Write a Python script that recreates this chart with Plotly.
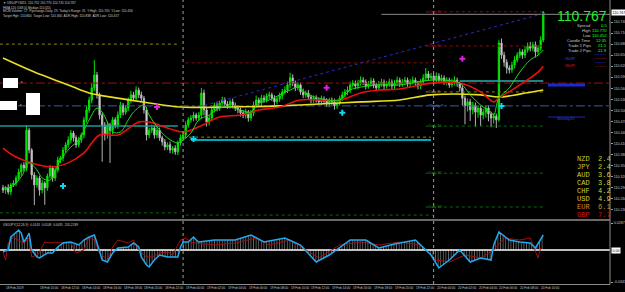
import plotly.graph_objects as go

# ---------------- data ----------------
first_open = 110.289
closes = [
 110.283,110.289,110.278,110.297,110.302,110.316,110.332,110.351,110.343,110.446,
 110.392,110.324,110.297,110.316,110.283,110.302,110.289,110.321,110.343,110.316,
 110.338,110.365,110.370,110.392,110.406,110.419,110.438,110.425,110.406,110.419,
 110.433,110.474,110.501,110.528,110.561,110.596,110.542,110.487,110.460,110.433,
 110.460,110.446,110.474,110.460,110.487,110.514,110.495,110.506,110.528,110.542,
 110.533,110.555,110.542,110.533,110.501,110.433,110.446,110.452,110.433,110.446,
 110.425,110.414,110.400,110.406,110.392,110.397,110.387,110.411,110.425,110.433,
 110.460,110.474,110.479,110.487,110.479,110.487,110.547,110.501,110.468,110.479,
 110.501,110.514,110.506,110.520,110.528,110.517,110.512,110.523,110.514,110.506,
 110.501,110.493,110.487,110.495,110.479,110.493,110.514,110.528,110.520,110.533,
 110.528,110.539,110.542,110.533,110.523,110.531,110.539,110.550,110.555,110.569,
 110.588,110.574,110.561,110.569,110.550,110.542,110.547,110.536,110.528,110.533,
 110.528,110.523,110.531,110.525,110.517,110.528,110.523,110.512,110.520,110.533,
 110.542,110.550,110.555,110.569,110.574,110.566,110.574,110.582,110.577,110.566,
 110.572,110.580,110.569,110.561,110.572,110.577,110.566,110.572,110.577,110.566,
 110.574,110.582,110.572,110.577,110.582,110.572,110.577,110.582,110.574,110.566,
 110.577,110.588,110.599,110.588,110.593,110.582,110.593,110.582,110.588,110.577,
 110.582,110.569,110.577,110.582,110.572,110.561,110.533,110.512,110.523,110.501,
 110.514,110.495,110.506,110.487,110.495,110.506,110.490,110.479,110.484,110.474,
 110.683,110.650,110.631,110.615,110.610,110.623,110.637,110.650,110.659,110.650,
 110.664,110.675,110.669,110.678,110.659,110.669,110.691,110.767,
]
wick_up_pips = [
 0.8,0.5,1.0,0.6,0.8,0.7,0.9,0.5,0.8,1.4,
 0.6,0.5,0.8,0.7,0.6,0.9,0.5,0.7,0.8,0.6,
 0.7,0.9,0.6,0.8,0.7,1.0,0.8,0.6,0.7,0.9,
 0.6,0.8,1.0,0.9,1.2,4.0,0.8,0.6,0.7,0.8,
 0.9,0.6,0.8,0.7,1.0,0.9,0.6,0.8,0.7,1.1,
 0.8,1.0,0.7,0.9,0.6,0.8,0.7,0.9,0.6,0.8,
 0.7,0.6,0.8,0.7,0.9,0.6,0.8,0.7,0.9,0.8,
 1.0,0.7,0.8,0.9,0.6,0.8,1.4,0.9,0.7,0.8,
 0.9,0.7,0.8,0.6,0.9,0.7,0.8,0.6,0.9,0.7,
 0.8,0.6,0.7,0.9,0.6,0.8,1.0,1.2,0.7,0.9,
 0.8,0.7,0.9,0.6,0.8,0.7,0.9,0.8,1.0,0.9,
 1.4,1.0,0.7,0.8,0.6,0.9,0.7,0.8,0.6,0.7,
 0.8,0.6,0.9,0.7,0.8,0.6,0.7,0.9,0.8,0.7,
 0.9,0.8,1.0,0.9,0.8,0.7,0.9,1.0,0.8,0.7,
 0.8,0.9,0.7,0.6,0.8,0.9,0.7,0.8,0.9,0.7,
 0.8,1.0,0.7,0.8,0.9,0.7,0.8,1.0,0.7,0.6,
 0.8,1.0,1.6,0.8,0.9,0.7,1.0,0.8,0.9,0.7,
 0.8,0.7,0.9,1.0,0.7,0.6,0.8,0.7,0.9,0.8,
 0.9,0.7,0.8,0.6,0.9,0.8,0.7,0.6,0.8,0.7,
 0.8,1.2,0.9,0.8,0.7,0.9,1.0,0.8,0.9,0.7,
 1.0,0.9,1.1,0.8,0.9,0.8,1.0,0.3,
]
wick_dn_pips = [
 0.8,1.0,0.7,0.9,0.6,0.8,0.7,1.0,0.9,0.8,
 0.9,1.2,5.5,0.8,1.5,0.9,4.6,0.8,0.7,1.0,
 0.8,0.7,0.9,0.8,0.7,0.8,0.9,1.0,0.8,0.7,
 0.8,0.9,0.7,0.8,0.9,0.8,1.0,1.2,10.0,1.5,
 1.0,8.9,1.2,0.9,1.0,0.8,0.9,0.7,0.8,0.9,
 0.8,0.7,0.9,0.8,1.0,1.5,0.9,0.8,1.0,0.9,
 0.8,1.0,0.9,0.8,0.9,1.0,0.8,0.9,0.7,0.8,
 0.9,0.7,0.8,0.9,0.7,0.8,0.9,1.5,1.2,0.9,
 0.8,0.7,0.9,0.8,0.7,0.9,0.8,0.7,0.9,0.8,
 0.9,1.0,0.8,0.9,1.0,0.8,0.9,0.7,0.8,0.9,
 0.8,0.7,0.9,0.8,0.9,0.7,0.8,0.9,0.7,0.8,
 0.9,0.8,0.9,0.7,0.8,0.9,0.8,0.7,0.9,0.8,
 0.7,0.8,0.9,0.7,0.8,0.9,0.8,1.0,0.8,0.7,
 0.8,0.7,0.9,0.8,0.7,0.8,0.9,0.7,0.8,0.9,
 0.7,0.8,0.9,0.8,0.7,0.8,0.9,0.7,0.8,0.9,
 0.8,0.7,0.9,0.8,0.7,0.8,0.9,0.7,0.8,0.9,
 0.8,0.7,0.9,0.8,0.7,0.8,0.9,0.8,0.7,0.8,
 0.9,0.8,0.7,0.9,0.8,1.0,2.0,5.0,1.5,3.0,
 1.2,4.0,1.5,3.0,1.2,1.5,2.0,2.5,1.5,2.2,
 0.5,1.0,1.2,1.5,1.0,0.8,0.9,0.7,0.8,1.0,
 0.8,0.7,0.9,0.8,1.5,0.9,0.7,0.6,
]

ma_slow_bars = [0,12,25,33,44,56,68,87,106,121,137,152,164,183,190,198,207]
ma_slow_vals = [110.642,110.604,110.569,110.547,110.533,110.520,110.509,110.509,110.512,
                110.517,110.523,110.528,110.542,110.542,110.536,110.544,110.555]
ma_mid_bars = [0,5,18,25,31,37,44,52,56,63,69,75,83,91,98,106,114,129,137,144,152,164,
               175,183,188,190,198,205,207]
ma_mid_vals = [110.397,110.373,110.346,110.357,110.384,110.433,110.433,110.468,110.468,110.452,
               110.441,110.455,110.482,110.487,110.501,110.509,110.528,110.528,110.547,110.555,
               110.558,110.574,110.574,110.550,110.523,110.533,110.569,110.604,110.620]
ma_fast_bars = [0,3,7,10,13,15,18,22,26,29,33,36,38,40,42,45,48,50,54,56,59,63,67,69,72,75,
                79,83,87,91,95,98,102,106,110,113,116,121,129,133,137,144,152,164,175,179,183,
                187,188,190,194,198,202,205,207]
ma_fast_vals = [110.289,110.291,110.319,110.357,110.338,110.316,110.310,110.365,110.400,110.419,
                110.474,110.506,110.495,110.468,110.441,110.441,110.474,110.495,110.514,110.487,
                110.455,110.425,110.411,110.419,110.438,110.474,110.487,110.506,110.509,110.501,
                110.495,110.520,110.528,110.542,110.555,110.563,110.547,110.533,110.528,110.555,
                110.563,110.569,110.569,110.582,110.574,110.542,110.514,110.495,110.487,110.533,
                110.561,110.604,110.637,110.650,110.664]

buy_bars = [23, 73, 130, 191]
buy_prices = [110.294, 110.422, 110.493, 110.512]
sell_bars = [59, 124, 176]
sell_prices = [110.509, 110.561, 110.640]

trend_bars = [75, 208]
trend_prices = [110.509, 110.765]

level_prices = [110.680, 110.221, 110.457, 110.629, 110.427, 110.215, 110.419, 110.768, 110.675,
                110.550, 110.457, 110.329, 110.237, 110.580, 110.574, 110.512, 110.761]
level_from = [-1.2, -1.2, -1.2, 70, 69, 70, 72, 162, 162, 162, 162, 162, 162, 175, -1.2, -1.2, 145]
level_to = [67, 68, 67, 165, 164, 165, 164, 207, 207, 207, 207, 207, 207, 207, 232.6, 232.6, 232.6]

pivot_names = ["Daily R2", "Daily R1", "Daily P", "Weekly P", "Daily S1", "Daily S2", "Daily S3"]
pivot_prices = [110.768, 110.675, 110.550, 110.512, 110.457, 110.329, 110.237]

day_separators = [69, 165]

osc_bars = [0,2,3,5,6,7,8,9,10,11,13,14,17,19,21,23,25,26,29,31,33,35,36,38,40,42,44,48,50,52,
            53,55,56,58,60,63,65,67,68,69,71,73,74,75,81,89,95,100,108,114,120,125,133,139,144,
            150,158,164,167,171,175,179,183,187,188,190,194,198,202,204,207]
osc_main = [-0.0017,0.000,0.013,0.018,0.020,0.017,0.008,0.012,0.017,0.000,
            -0.007,-0.008,-0.003,-0.003,0.003,0.007,0.008,0.008,0.005,0.010,
            0.013,0.015,0.007,-0.010,-0.012,-0.003,0.002,0.003,0.007,0.003,
            -0.007,-0.015,-0.017,-0.010,-0.005,-0.007,-0.007,-0.007,0.003,0.008,
            0.008,0.013,0.010,0.008,0.010,0.010,0.015,0.008,0.012,0.005,
            -0.012,-0.005,0.010,0.010,0.002,0.006,0.010,-0.005,-0.018,-0.010,
            0.000,-0.012,-0.008,-0.010,0.005,0.018,0.010,0.008,0.007,0.002,0.015]
sig_bars = [0,1,2,4,7,8,10,11,13,14,16,18,20,22,24,26,28,31,33,35,37,40,42,44,48,50,52,55,57,60,
            63,65,68,70,72,74,81,89,97,102,110,116,121,129,137,144,152,160,166,171,177,183,188,
            192,198,202,205,206]
sig_vals = [-0.002,-0.010,0.007,0.013,0.008,0.007,0.012,-0.007,-0.005,-0.002,
            0.008,0.007,0.008,0.007,0.008,0.007,-0.003,0.000,0.013,0.010,
            -0.003,-0.010,0.003,0.010,0.007,0.010,0.000,-0.007,-0.007,-0.003,
            -0.002,-0.005,0.010,0.012,0.008,0.007,0.005,0.007,0.012,0.005,
            0.010,0.000,-0.008,0.005,0.008,0.005,0.008,0.005,-0.010,-0.012,
            -0.005,-0.008,0.000,0.012,0.010,0.012,-0.008,0.002]

price_tick_labels = ["110.740","110.710","110.680","110.650","110.620","110.590","110.560",
                     "110.530","110.500","110.470","110.440","110.410","110.380","110.350",
                     "110.320","110.290","110.260","110.230"]
time_tick_bars = [0,13,21,29,37,45,53,61,69,77,85,93,101,109,117,125,133,141,149,157,165,173,
                  181,189,197,205]
time_tick_labels = ["18 Feb 2019","18 Feb 10:00","18 Feb 12:00","18 Feb 14:00","18 Feb 16:00",
                    "18 Feb 18:00","18 Feb 20:00","18 Feb 22:00","19 Feb 00:00","19 Feb 02:00",
                    "19 Feb 04:00","19 Feb 06:00","19 Feb 08:00","19 Feb 10:00","19 Feb 12:00",
                    "19 Feb 14:00","19 Feb 16:00","19 Feb 18:00","19 Feb 20:00","19 Feb 22:00",
                    "20 Feb 00:00","20 Feb 02:00","20 Feb 04:00","20 Feb 06:00","20 Feb 08:00",
                    "20 Feb 10:00"]

last_price = "110.767"
info_labels = ["Spread", "High", "Low", "Candle Time", "Trade 1 Pips", "Trade 2 Pips"]
info_values = ["0.5", "110.770", "110.452", "12:35", "21.5", "21.9"]
currencies = ["NZD", "JPY", "AUD", "CAD", "CHF", "USD", "EUR", "GBP"]
strengths = ["2.4", "2.4", "3.6", "3.8", "4.2", "4.9", "6.1", "7.7"]

assert len(closes) == len(wick_up_pips) == len(wick_dn_pips) == 208

# ---------------- build ----------------
W, H, PW = 625, 292, 610
FONT = "Liberation Sans"
bars = list(range(len(closes)))
opens = [first_open] + closes[:-1]
highs = [max(o, c) + u / 100 for o, c, u in zip(opens, closes, wick_up_pips)]
lows = [min(o, c) - d / 100 for o, c, d in zip(opens, closes, wick_dn_pips)]

def px(x):
    return x / PW

def py(y):
    return 1 - y / H

fig = go.Figure()

level_styles = [
    ("#8a8a00", "dot", 1), ("#0a6a0a", "dot", 1), ("#1a9a9a", "solid", 1.5),
    ("#8b0a0a", "dot", 1), ("#8a8a00", "dot", 1), ("#0a6a0a", "dot", 1),
    ("#00e0f0", "solid", 1.5), ("#8b0a0a", "dot", 1), ("#8b0a0a", "dot", 1),
    ("#8a8a00", "dot", 1), ("#0a6a0a", "dot", 1), ("#0a6a0a", "dot", 1),
    ("#0a6a0a", "dot", 1), ("#20b0b0", "solid", 1.5), ("#a01010", "dashdot", 1),
    ("#3a5a9a", "dashdot", 1), ("#8a8a8a", "solid", 1),
]
for p, a, b, (col, dash, w) in zip(level_prices, level_from, level_to, level_styles):
    fig.add_trace(go.Scatter(x=[a, b], y=[p, p], mode="lines",
                             line=dict(color=col, dash=dash, width=w), hoverinfo="skip"))

fig.add_trace(go.Scatter(x=trend_bars, y=trend_prices, mode="lines",
                         line=dict(color="#2a2ac8", dash="dot", width=1), hoverinfo="skip"))

fig.add_trace(go.Scatter(x=ma_slow_bars, y=ma_slow_vals, mode="lines",
                         line=dict(color="#e8e020", width=1.6, shape="spline"), hoverinfo="skip"))
fig.add_trace(go.Scatter(x=ma_mid_bars, y=ma_mid_vals, mode="lines",
                         line=dict(color="#e81010", width=1.6, shape="spline"), hoverinfo="skip"))

fig.add_trace(go.Candlestick(
    x=bars, open=opens, high=highs, low=lows, close=closes,
    increasing=dict(line=dict(color="#00e600", width=1), fillcolor="#00e600"),
    decreasing=dict(line=dict(color="#b4b4b4", width=1), fillcolor="#ececec"),
    whiskerwidth=0, hoverinfo="skip"))

fig.add_trace(go.Scatter(x=ma_fast_bars, y=ma_fast_vals, mode="lines",
                         line=dict(color="#20d820", width=1, shape="spline"), hoverinfo="skip"))

fig.add_trace(go.Scatter(x=buy_bars, y=buy_prices, mode="markers",
                         marker=dict(symbol="cross", size=5, color="#10d8f0"), hoverinfo="skip"))
fig.add_trace(go.Scatter(x=sell_bars, y=sell_prices, mode="markers",
                         marker=dict(symbol="cross", size=5, color="#e020e0"), hoverinfo="skip"))

# oscillator pane
fig.add_trace(go.Scatter(x=osc_bars, y=osc_main, mode="lines", yaxis="y2",
                         line=dict(width=0, color="rgba(0,0,0,0)"), fill="tozeroy",
                         fillcolor="rgba(0,0,0,0)",
                         fillpattern=dict(shape="|", fgcolor="#c8c8c8", bgcolor="rgba(0,0,0,0)",
                                          size=2.6, solidity=0.35),
                         hoverinfo="skip"))
fig.add_trace(go.Scatter(x=[-1.2, 232.6], y=[0, 0], mode="lines", yaxis="y2",
                         line=dict(color="#ffffff", width=1.5), hoverinfo="skip"))
fig.add_trace(go.Scatter(x=sig_bars, y=sig_vals, mode="lines", yaxis="y2",
                         line=dict(color="#a01010", width=1), hoverinfo="skip"))
fig.add_trace(go.Scatter(x=osc_bars, y=osc_main, mode="lines", yaxis="y2",
                         line=dict(color="#20a8f0", width=1.5), hoverinfo="skip"))

shapes = []
for b in day_separators:
    shapes.append(dict(type="line", xref="x", yref="paper", x0=b, x1=b, y0=py(284), y1=1,
                       line=dict(color="#a0a0a0", width=1, dash="dot")))
shapes += [
    dict(type="line", xref="paper", yref="paper", x0=0, x1=1, y0=py(220), y1=py(220),
         line=dict(color="#8c8c8c", width=1.5)),
    dict(type="line", xref="paper", yref="paper", x0=0, x1=1, y0=py(284.5), y1=py(284.5),
         line=dict(color="#8c8c8c", width=1)),
    dict(type="line", xref="paper", yref="paper", x0=1, x1=1, y0=py(284.5), y1=1,
         line=dict(color="#8c8c8c", width=1)),
    dict(type="rect", xref="paper", yref="paper", x0=px(3), x1=px(18), y0=py(88), y1=py(78),
         fillcolor="#ffffff", line=dict(width=0)),
    dict(type="rect", xref="paper", yref="paper", x0=px(0), x1=px(17), y0=py(110), y1=py(101),
         fillcolor="#ffffff", line=dict(width=0)),
    dict(type="rect", xref="paper", yref="paper", x0=px(26), x1=px(40), y0=py(115), y1=py(93),
         fillcolor="#ffffff", line=dict(width=0)),
    dict(type="rect", xref="paper", yref="paper", x0=px(548), x1=px(585), y0=py(86.5), y1=py(83.5),
         fillcolor="#1a2ad0", line=dict(width=0)),
    dict(type="line", xref="paper", yref="paper", x0=px(548), x1=px(585), y0=py(117), y1=py(117),
         line=dict(color="#1a2ab0", width=1)),
]

ann = []

def txt(x, y, s, size=4, color="#c8c8c8", anchor="left", family=FONT, bg=None):
    d = dict(x=px(x), y=py(y), xref="paper", yref="paper", text=s, showarrow=False,
             xanchor=anchor, yanchor="middle", borderpad=0,
             font=dict(size=size, color=color, family=family))
    if bg:
        d["bgcolor"] = bg
    ann.append(d)

# header lines
txt(2, 3.5, "\u25bc USDJPY,M15  110.752 110.770 110.745 110.767", size=3.2)
txt(2, 7.5, "HMA 120 (168,0) Median 110.555", size=3.2)
txt(2, 11.5, "MCM Volume: 17  Pipchange Daily: 23  Today's Range: 31  Y.High: 110.705  Y.Low: 110.456", size=3.2)
txt(2, 15.5, "Target Hgh: 110.800  Target Low: 110.360  ADR High: 110.838  ADR Low: 110.457", size=3.2)
txt(2, 225, "USDJPY(12,26,9)  0.0143  0.0108  0.0035  205.2189", size=3.2)
txt(20, 81, "\u25b8", size=4, color="#909090")
txt(19, 104, "\u25b8", size=4, color="#909090")

# time labels along the bottom (left-aligned at their bar, as in the terminal)
for b, lab in zip(time_tick_bars, time_tick_labels):
    ann.append(dict(x=b + 0.8, y=py(288), xref="x", yref="paper", text=lab, showarrow=False,
                    xanchor="left", yanchor="middle", borderpad=0,
                    font=dict(size=3.1, color="#c8c8c8", family=FONT)))

# pivot labels
piv_cols = ["#a01818", "#a01818", "#8a8a8a", "#5a7ac0", "#1a8a1a", "#1a8a1a", "#1a8a1a"]
for name, p, col in zip(pivot_names, pivot_prices, piv_cols):
    ann.append(dict(x=162.5, y=p, xref="x", yref="y", text=name, showarrow=False, xanchor="left",
                    yanchor="middle", font=dict(size=3.4, color=col, family=FONT)))

# right info panel
txt(608, 16.5, last_price, size=14, color="#22f022", anchor="right")
for i, (lab, val) in enumerate(zip(info_labels, info_values)):
    yy = 25.3 + i * 5.0
    txt(592, yy, lab, size=4.1, color="#c8c8c8", anchor="right")
    txt(608, yy, val, size=4.1, color="#20ff20", anchor="right")
dots = "\u25aa \u25aa \u25aa \u25aa \u25aa \u25aa \u25aa"
txt(607, 54.8, dots, size=2.6, color="#2040ff", anchor="right")
txt(577, 58.6, "USDJPY", size=2.6, color="#3050ff", anchor="right")
txt(607, 58.6, dots, size=2.6, color="#e02020", anchor="right")
txt(607, 62.4, dots, size=2.6, color="#2040ff", anchor="right")
txt(577, 66.2, "USDJPY", size=2.6, color="#e02020", anchor="right")
txt(607, 66.2, dots, size=2.6, color="#c01818", anchor="right")
txt(566, 118, "WeeklyS1", size=4, color="#2a40e8", anchor="center")

cur_cols = ["#c8c832", "#c8c832", "#d4d232", "#d4d232", "#d8d23c", "#e0cc3c", "#d88a20", "#d01818"]
for i, (c, v, col) in enumerate(zip(currencies, strengths, cur_cols)):
    yy = 158.5 + i * 8.1
    txt(576, yy, c, size=7, color=col, family="Liberation Mono")
    txt(597, yy, v, size=7, color=col, family="Liberation Mono")

# right-axis boxes
ann.append(dict(x=1, y=110.767, xref="paper", yref="y", text=last_price, showarrow=False,
                xanchor="left", yanchor="middle", bgcolor="#ffffff", borderpad=0.5, xshift=1,
                font=dict(size=3.6, color="#000000", family=FONT)))
ann.append(dict(x=1, y=0, xref="paper", yref="y2", text="0.00", showarrow=False,
                xanchor="left", yanchor="middle", bgcolor="#ffffff", borderpad=0.5, xshift=1,
                font=dict(size=3.6, color="#000000", family=FONT)))

price_tick_vals = [float(t) for t in price_tick_labels]
fig.update_layout(
    width=W, height=H, margin=dict(l=0, r=W - PW, t=0, b=0),
    paper_bgcolor="#000000", plot_bgcolor="#000000", showlegend=False,
    xaxis=dict(domain=[0, 1], range=[-3 / 2.61, (PW - 3) / 2.61], anchor="y2",
               showgrid=False, zeroline=False, showline=False, ticks="",
               showticklabels=False,
               rangeslider=dict(visible=False), automargin=False, fixedrange=True),
    yaxis=dict(domain=[0.25, 1], range=[110.800 - 0.00272 * 219, 110.800], side="right",
               anchor="x", showgrid=False, zeroline=False, showline=False,
               tickvals=price_tick_vals, ticktext=price_tick_labels, ticks="outside",
               ticklen=2, tickcolor="#a0a0a0",
               tickfont=dict(size=3.6, color="#c8c8c8", family=FONT), automargin=False),
    yaxis2=dict(domain=[8 / H, 71 / H], range=[-0.034, 0.029], side="right", anchor="x",
                showgrid=False, zeroline=False, showline=False,
                tickvals=[0.027, -0.032], ticktext=["0.0287", "-0.0341"], ticks="outside",
                ticklen=2, tickcolor="#a0a0a0",
                tickfont=dict(size=3.6, color="#c8c8c8", family=FONT), automargin=False),
    shapes=shapes, annotations=ann,
)

fig.write_html("out.html")
